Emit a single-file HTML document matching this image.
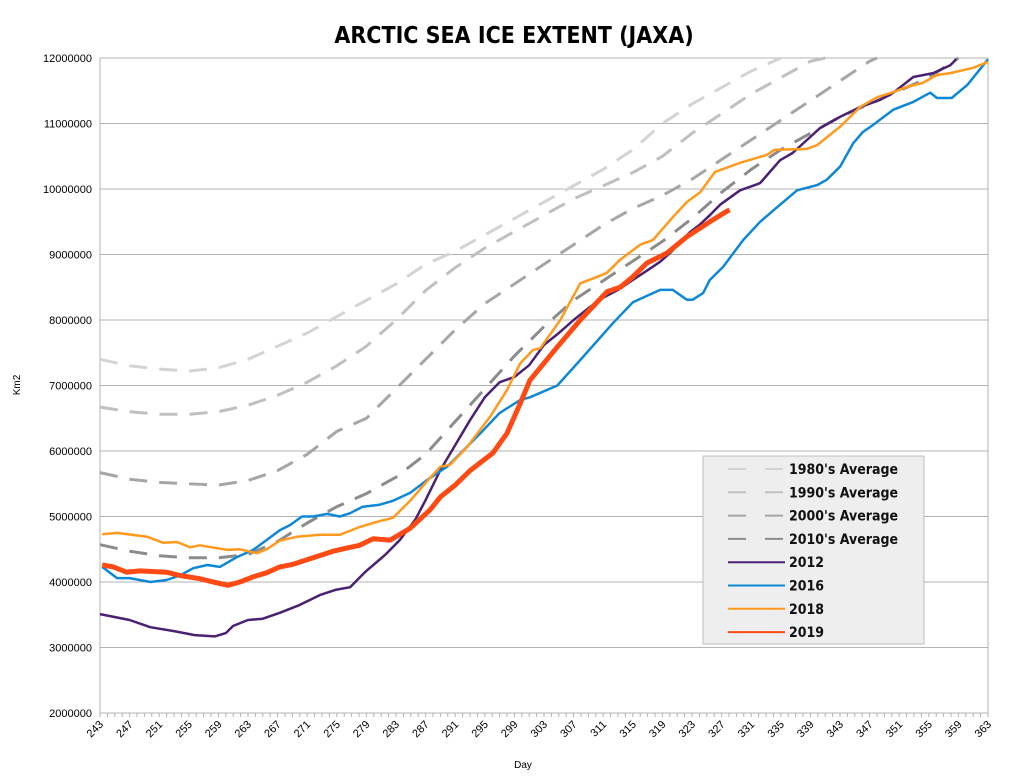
<!DOCTYPE html>
<html><head><meta charset="utf-8"><style>
body{margin:0;background:#fff;}
svg{display:block;font-family:"Liberation Sans",sans-serif;}
.cond{font-family:"DejaVu Sans Condensed","DejaVu Sans","Liberation Sans",sans-serif;}
</style></head><body>
<svg id="chart" width="1034" height="778">
<text class="cond" x="514" y="43" text-anchor="middle" font-size="23" font-weight="bold">ARCTIC SEA ICE EXTENT (JAXA)</text>
<g id="grid"></g><g id="axes"></g><g id="series"></g>
<text transform="translate(20,385) rotate(-90)" text-anchor="middle" font-size="10">Km2</text>
<text x="523" y="768" text-anchor="middle" font-size="10">Day</text>
<g id="legend"></g>
</svg>
<script>
const yTicks=[2000000,3000000,4000000,5000000,6000000,7000000,8000000,9000000,10000000,11000000,12000000];
const xTickDays=[243,247,251,255,259,263,267,271,275,279,283,287,291,295,299,303,307,311,315,319,323,327,331,335,339,343,347,351,355,359,363];
const seriesNames=["1980's Average","1990's Average","2000's Average","2010's Average","2012","2016","2018","2019"];
const d1980=[243,247,251,255,259,263,267,271,275,279,283,287,291,295,299,303,307,311,315,319,323,327,331,335];
const v1980=[7.4,7.3,7.25,7.22,7.27,7.4,7.6,7.8,8.05,8.3,8.55,8.85,9.05,9.3,9.55,9.8,10.05,10.3,10.6,11.0,11.3,11.55,11.8,12.0];
const d1990=[243,247,251,255,259,263,267,271,275,279,283,287,291,295,299,303,307,311,315,319,323,327,331,335,339,341];
const v1990=[6.67,6.6,6.56,6.56,6.6,6.7,6.85,7.05,7.3,7.6,8.0,8.45,8.8,9.1,9.35,9.6,9.85,10.05,10.25,10.5,10.85,11.15,11.45,11.7,11.95,12.0];
const d2000=[243,247,251,255,259,263,267,271,275,279,283,287,291,295,299,303,307,311,315,319,323,327,331,335,339,343,347,348];
const v2000=[5.67,5.57,5.52,5.5,5.48,5.55,5.7,5.95,6.3,6.5,6.95,7.4,7.85,8.25,8.55,8.85,9.15,9.45,9.7,9.9,10.15,10.45,10.75,11.05,11.35,11.65,11.95,12.0];
const d2010=[243,247,251,255,259,263,267,271,275,279,283,287,291,295,299,303,307,311,315,319,323,327,331,335,339,343,347,351,355,359];
const v2010=[4.57,4.47,4.4,4.37,4.37,4.42,4.62,4.9,5.15,5.35,5.6,5.95,6.45,6.95,7.45,7.9,8.3,8.6,8.9,9.2,9.55,9.95,10.3,10.6,10.85,11.1,11.3,11.5,11.7,12.0];
const d2012=[243,247,249.8,253,255.8,258.5,260,261,263,265,267.3,270,272.7,274.8,276.8,278.8,281.5,283.5,285.6,287,289,291,293,295,297,299,301,303,305,307,309,311,313,315,317,318.7,320,321.4,322.7,324,325.4,326.8,329.5,331.5,332.2,334.9,336.6,340.3,343,345.7,348.4,350.2,352.9,355.6,357.9,358.7];
const v2012=[3.51,3.42,3.31,3.25,3.19,3.17,3.22,3.33,3.42,3.44,3.53,3.65,3.8,3.88,3.92,4.15,4.41,4.64,4.95,5.25,5.71,6.09,6.47,6.82,7.05,7.13,7.31,7.62,7.8,8.0,8.18,8.34,8.46,8.61,8.76,8.89,9.02,9.18,9.34,9.45,9.6,9.76,9.98,10.06,10.09,10.44,10.55,10.93,11.1,11.25,11.36,11.47,11.71,11.77,11.89,11.98];
const d2016=[243.3,245.3,247,249.8,252,253.8,255.6,257.5,259.2,261.5,263.7,265.5,267.3,268.7,270.3,271.8,273.7,275.4,276.8,278.5,280.8,282.6,284.9,287.6,289.9,294.4,297,299.8,301.1,304.8,307.9,312.3,315,318.7,320.4,322.3,323.1,324.5,325.4,327.2,329.9,332.2,334.9,337.2,339.9,341.2,343,344.8,346.1,347.5,350.2,352.9,355.2,356.1,358.1,360.2,361.5,363];
const v2016=[4.23,4.06,4.06,4.0,4.03,4.1,4.21,4.26,4.23,4.38,4.49,4.64,4.79,4.87,5.0,5.0,5.04,5.0,5.05,5.15,5.18,5.24,5.36,5.59,5.76,6.27,6.58,6.78,6.82,7.0,7.39,7.95,8.27,8.46,8.46,8.31,8.31,8.41,8.61,8.81,9.22,9.5,9.76,9.98,10.06,10.14,10.34,10.7,10.87,10.98,11.21,11.33,11.47,11.39,11.39,11.59,11.77,11.98];
const d2018=[243.3,245.3,249.4,251.5,253.4,255.2,256.5,260.2,261.9,264.2,265.5,267.3,269.6,272.7,275.4,278.1,280.8,282.6,284.9,287.6,289,290.3,292.6,295.7,298,299.8,301.5,302.5,305.2,307.9,310.2,311.5,313.3,316,317.7,320.4,322.3,324.1,326.1,329.5,333.1,334.2,338.5,339.9,343,345.7,348,350.2,352.1,354.2,356.1,357.9,361,363];
const v2018=[4.73,4.75,4.69,4.6,4.61,4.53,4.56,4.49,4.5,4.44,4.5,4.63,4.69,4.72,4.72,4.84,4.93,4.98,5.24,5.59,5.76,5.79,6.06,6.52,6.93,7.34,7.54,7.57,8.0,8.56,8.66,8.72,8.92,9.15,9.22,9.57,9.8,9.95,10.26,10.4,10.52,10.6,10.61,10.67,10.95,11.25,11.4,11.48,11.56,11.62,11.74,11.77,11.85,11.94];
const d2019=[243.3,244.8,246.6,248.4,252,253.8,256.5,258.3,260.3,261.9,263.7,265.5,267.3,269.1,271.8,274.5,276.4,278.1,279.9,282.2,284.9,287.6,289,291,293,296.1,298,299.8,301.1,304.8,307.9,311.5,313.3,315,316.9,319.6,322.3,325.4,327.7,328.1];
const v2019=[4.26,4.23,4.15,4.17,4.15,4.1,4.05,4.0,3.95,4.0,4.08,4.14,4.23,4.27,4.37,4.47,4.52,4.56,4.66,4.64,4.82,5.1,5.3,5.48,5.7,5.97,6.27,6.73,7.08,7.59,8.0,8.43,8.5,8.66,8.87,9.02,9.27,9.5,9.66,9.68];

const X0=100,X1=988,Y0=713,Y1=58,DMIN=243,DMAX=363,VMIN=2000000,VMAX=12000000;
const xs=d=>X0+(d-DMIN)/(DMAX-DMIN)*(X1-X0);
const ys=v=>Y0-(v-VMIN)/(VMAX-VMIN)*(Y0-Y1);
const NS="http://www.w3.org/2000/svg";
function mk(tag,attrs,parent){const e=document.createElementNS(NS,tag);for(const k in attrs)e.setAttribute(k,attrs[k]);parent.appendChild(e);return e;}
const grid=document.getElementById('grid'),axes=document.getElementById('axes'),ser=document.getElementById('series'),leg=document.getElementById('legend');
yTicks.forEach(v=>{
  const l=mk('line',{x1:X0,x2:X1,y1:ys(v),y2:ys(v),stroke:'#b3b3b3','stroke-width':1},grid);
  
  
  const t=mk('text',{x:X0-8,y:ys(v)+4,'text-anchor':'end','font-size':11},axes);
  t.textContent=String(v);
  
  
});
mk('line',{x1:X0,x2:X0,y1:Y1,y2:Y0,stroke:'#b3b3b3','stroke-width':1},axes);
mk('line',{x1:X1,x2:X1,y1:Y1,y2:Y0,stroke:'#b3b3b3','stroke-width':1},axes);
for(let d=DMIN;d<=DMAX;d++){mk('line',{x1:xs(d),x2:xs(d),y1:Y0,y2:Y0+4,stroke:'#b3b3b3'},axes);}
xTickDays.forEach(d=>{
  const t=mk('text',{transform:`translate(${xs(d)+4},${Y0+12}) rotate(-45)`,'text-anchor':'end','font-size':11},axes);
  t.textContent=String(d);
  
  
});
const styles=[
 {c:'#d4d4d4',w:3,dash:'18,12'},{c:'#c0c0c0',w:3,dash:'18,12'},{c:'#a6a6a6',w:3,dash:'18,12'},{c:'#8c8c8c',w:3,dash:'18,12'},
 {c:'#4b2173',w:2.5,dash:''},{c:'#0e88d4',w:2.5,dash:''},{c:'#ff9a1e',w:2.5,dash:''},{c:'#ff4a14',w:5,dash:''}];
const data=[[d1980,v1980],[d1990,v1990],[d2000,v2000],[d2010,v2010],[d2012,v2012],[d2016,v2016],[d2018,v2018],[d2019,v2019]];
const keys=['series-1980s-average','series-1990s-average','series-2000s-average','series-2010s-average','series-2012','series-2016','series-2018','series-2019'];
data.forEach((s,i)=>{
  const pts=s[0].map((d,j)=>xs(d).toFixed(1)+','+ys(s[1][j]*1e6).toFixed(1)).join(' ');
  const p=mk('polyline',{points:pts,fill:'none',stroke:styles[i].c,'stroke-width':styles[i].w,'stroke-dasharray':styles[i].dash,'stroke-linejoin':'round'},ser);
  
  
});
const box=mk('rect',{x:703,y:456,width:221,height:188,fill:'#eeeeee',stroke:'#bdbdbd'},leg);


seriesNames.forEach((n,i)=>{
  const y=469+i*23.3;
  mk('line',{x1:728,x2:785,y1:y,y2:y,stroke:styles[i].c,'stroke-width':2,'stroke-dasharray':styles[i].dash?'18,19':''},leg);
  const t=mk('text',{x:789,y:y+5,'font-size':14,'font-weight':'bold',fill:'#111','class':'cond'},leg);
  t.textContent=n;
  
  
});
</script>
</body></html>
